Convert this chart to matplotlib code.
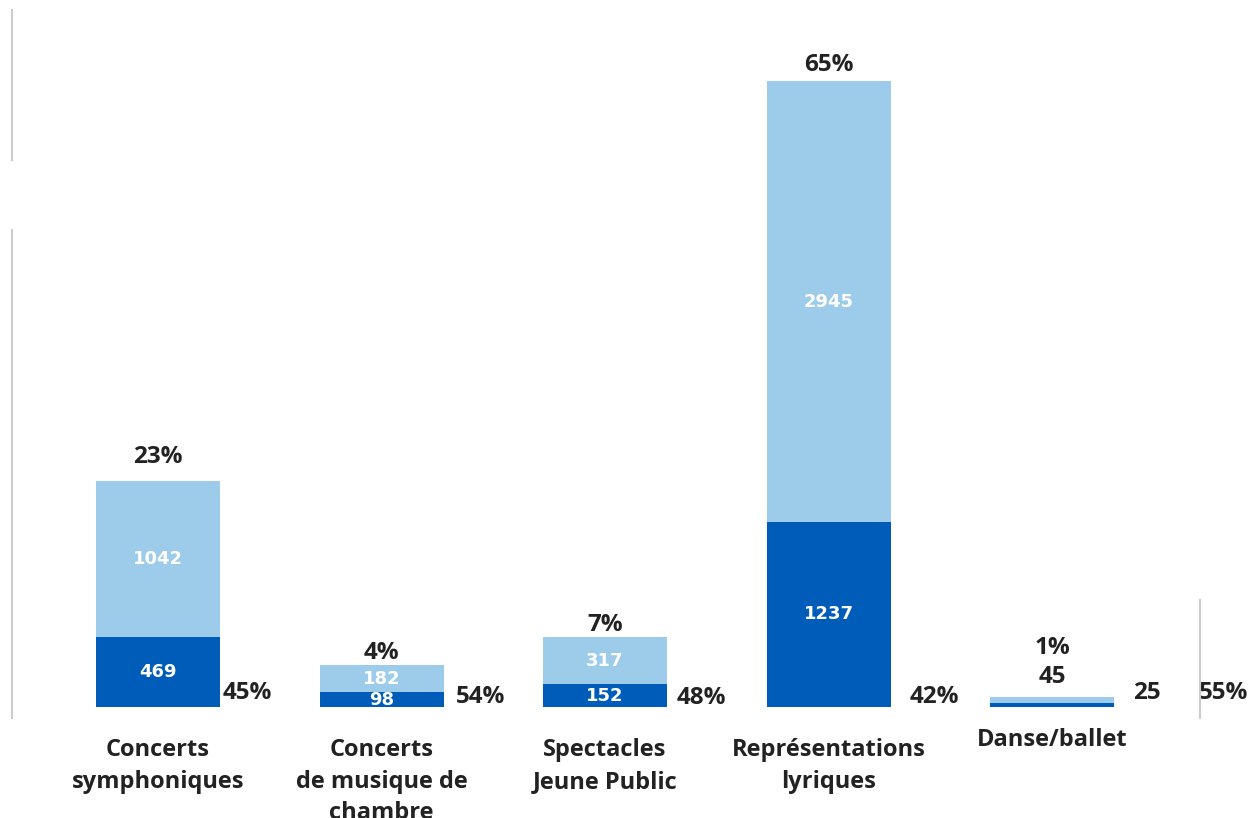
import matplotlib
matplotlib.use("Agg")
import matplotlib.pyplot as plt
from matplotlib.lines import Line2D

categories = ["Concerts\nsymphoniques", "Concerts\nde musique de\nchambre",
              "Spectacles\nJeune Public", "Représentations\nlyriques", "Danse/ballet"]
dark_vals = [469, 98, 152, 1237, 25]
light_vals = [1042, 182, 317, 2945, 45]
top_pct = ["23%", "4%", "7%", "65%", "1%"]
side_pct = ["45%", "54%", "48%", "42%", "55%"]

DARK = "#005cb9"
LIGHT = "#9dcbea"
TXT = "#222222"
FONT = "Open Sans"
PCT_FS = 17.5

fig = plt.figure(figsize=(12.55, 8.18), dpi=100)
ax = fig.add_axes([0, 0, 1, 1])
ax.set_xlim(-0.707, 4.908)
ax.set_ylim(-742, 4726)
ax.axis("off")

x = list(range(len(categories)))
w = 0.555
ax.bar(x, dark_vals, width=w, color=DARK)
ax.bar(x, light_vals, width=w, bottom=dark_vals, color=LIGHT)

top_off = [17, 8.6, 8.6, 12, 35]
side_off = [(2, 10), (9, 7), (7, 6.5), (14, 7), (61, 10)]

for i in x:
    d, l = dark_vals[i], light_vals[i]
    tot = d + l
    if i < 4:
        ax.text(i, d / 2, str(d), ha="center", va="center", color="white",
                fontsize=13, fontweight="bold", family="DejaVu Sans")
        ax.text(i, d + l / 2, str(l), ha="center", va="center", color="white",
                fontsize=13, fontweight="bold", family="DejaVu Sans")
    else:
        ax.annotate(str(l), (i, tot), xytext=(0, 14.4), textcoords="offset points",
                    ha="center", va="center", fontsize=PCT_FS, fontweight="bold",
                    color=TXT, family=FONT)
        ax.annotate(str(d), (i + w / 2, 0), xytext=(14, 10), textcoords="offset points",
                    ha="left", va="center", fontsize=PCT_FS, fontweight="bold",
                    color=TXT, family=FONT)
    ax.annotate(top_pct[i], (i, tot), xytext=(0, top_off[i]), textcoords="offset points",
                ha="center", va="center", fontsize=PCT_FS, fontweight="bold",
                color=TXT, family=FONT)
    ax.annotate(side_pct[i], (i + w / 2, 0), xytext=side_off[i], textcoords="offset points",
                ha="left", va="center", fontsize=PCT_FS, fontweight="bold",
                color=TXT, family=FONT)
    yoff = -22.5 if i != 4 else -15
    ax.annotate(categories[i], (i, 0), xytext=(0, yoff), textcoords="offset points",
                ha="center", va="top", fontsize=17, fontweight="bold",
                color=TXT, family=FONT, linespacing=1.42)

# faint vertical guide lines (as in reference)
for (xf, y0, y1) in [(12, 10, 160), (12, 230, 718), (1200, 600, 718)]:
    fig.add_artist(Line2D([xf / 1255, xf / 1255], [1 - y0 / 818, 1 - y1 / 818],
                          transform=fig.transFigure, color="#cccccc", lw=1.5))

fig.savefig("out.png", dpi=100)
